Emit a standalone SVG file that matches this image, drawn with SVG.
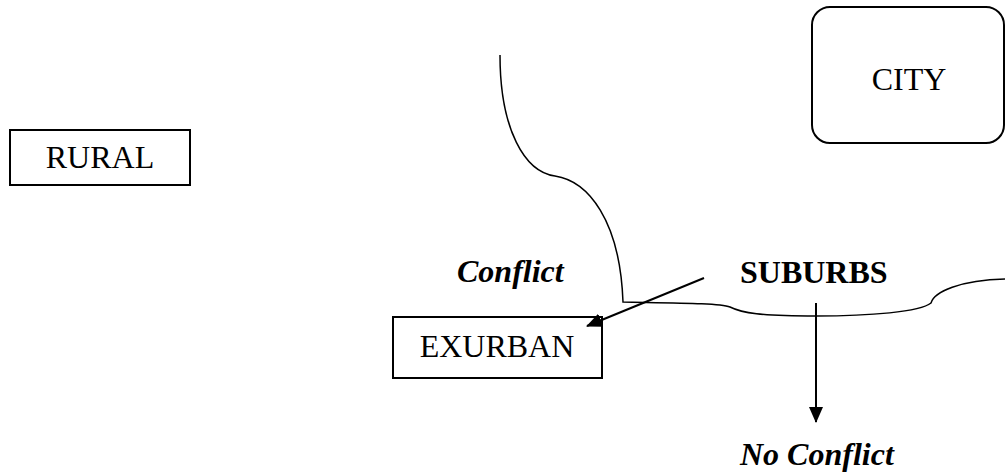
<svg xmlns="http://www.w3.org/2000/svg" width="1005" height="474" viewBox="0 0 1005 474">
<style>
.box{fill:#fff;stroke:#000;stroke-width:2}
.lbl{font-family:"Liberation Serif","Times New Roman",serif;font-size:32px;fill:#000}
.bi{font-weight:bold;font-style:italic}
.b{font-weight:bold}
.edge{fill:none;stroke:#000;stroke-width:2}
.bound{fill:none;stroke:#000;stroke-width:1.5}
</style>
<defs>
<marker id="ah" markerWidth="16" markerHeight="16" refX="15" refY="8" orient="auto" markerUnits="userSpaceOnUse">
<path d="M0,1 L16,8 L0,15 Z" fill="#000"/>
</marker>
</defs>
<rect width="1005" height="474" fill="#fff"/>
<g id="boundary">
<path class="bound" d="M500,55 C500,130 525,172 555,176 C588,181 620,220 623,302 C680,303 720,303 730,307 C742,313 760,316 816,316 C870,316 920,312 931,303 C934,292 960,280 1005,279"/>
</g>
<g id="rural">
<rect class="box" x="10" y="130" width="180" height="55"/>
<text class="lbl" x="100" y="168" text-anchor="middle">RURAL</text>
</g>
<g id="city">
<rect class="box" x="812" y="7" width="192" height="136" rx="18" ry="18"/>
<text class="lbl" x="909" y="90" text-anchor="middle">CITY</text>
</g>
<g id="exurban">
<rect class="box" x="393" y="317" width="209" height="61"/>
<text class="lbl" x="497" y="357" text-anchor="middle">EXURBAN</text>
</g>
<g id="suburbs">
<text class="lbl b" x="740" y="283">SUBURBS</text>
</g>
<g id="conflict">
<text class="lbl bi" x="457" y="282">Conflict</text>
</g>
<g id="noconflict">
<text class="lbl bi" x="740" y="465">No Conflict</text>
</g>
<g id="connectors">
<line class="edge" x1="704" y1="278" x2="587" y2="326" marker-end="url(#ah)"/>
<line class="edge" x1="816" y1="303" x2="816" y2="422" marker-end="url(#ah)"/>
</g>
</svg>
